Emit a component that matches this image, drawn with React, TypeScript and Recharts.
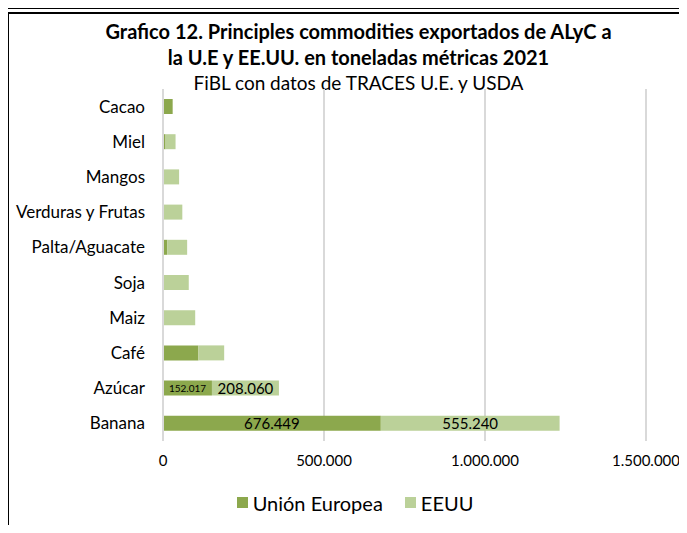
import React from "react"
import { BarChart, Bar, XAxis, YAxis, CartesianGrid, LabelList } from "recharts"

const categories = ["Cacao", "Miel", "Mangos", "Verduras y Frutas", "Palta/Aguacate", "Soja", "Maiz", "Café", "Azúcar", "Banana"]
const unionEuropea = [30000, 8000, 0, 0, 13000, 0, 0, 110000, 152017, 676449]
const eeuu = [0, 31000, 50000, 60000, 62000, 80000, 100000, 80000, 208060, 555240]
const labelled = ["Azúcar", "Banana"]
const xTicks = [0, 500000, 1000000, 1500000]

const fmt = (v: number) => Math.round(v).toString().replace(/\B(?=(\d{3})+(?!\d))/g, ".")

const data = categories.map((name, i) => ({
  name,
  ue: unionEuropea[i],
  us: eeuu[i],
  ueLabel: labelled.includes(name) ? fmt(unionEuropea[i]) : "",
  usLabel: labelled.includes(name) ? fmt(eeuu[i]) : "",
}))

const FONT = "Lato, 'Open Sans', sans-serif"
const DARK = "#8CA84D"
const LIGHT = "#BBD199"

const SegLabel = (props: any) => {
  const { x, y, width, height, value } = props
  if (!value) return null
  // narrow segment (Azúcar UE) gets the small font, like the original
  const size = width < 60 ? 10 : 15
  return (
    <text x={x + width / 2} y={y + height / 2} dy="0.36em" textAnchor="middle" fontSize={size} fontFamily={FONT} fill="#000">
      {value}
    </text>
  )
}

function LegendBox() {
  const item = (color: string, label: string) => (
    <span style={{ display: "inline-flex", alignItems: "center", margin: "0 11px" }}>
      <span style={{ width: 11, height: 11, background: color, display: "inline-block", marginRight: 5 }} />
      <span>{label}</span>
    </span>
  )
  return (
    <div style={{ position: "absolute", left: 0, width: 710, top: 488, textAlign: "center", fontFamily: FONT, fontSize: 20, color: "#000" }}>
      {item(DARK, "Unión Europea")}
      {item(LIGHT, "EEUU")}
    </div>
  )
}

export default function App() {
  return (
    <div style={{ position: "relative", width: 687, height: 533, margin: -8, background: "#fff", overflow: "hidden" }}>
      {/* frame lines */}
      <div style={{ position: "absolute", left: 7, top: 0, width: 2, height: 9, background: "#000" }} />
      <div style={{ position: "absolute", left: 7, top: 7, right: 0, height: 2, background: "#000" }} />
      <div style={{ position: "absolute", left: 7, top: 12, right: 0, height: 2, background: "#000" }} />
      <div style={{ position: "absolute", left: 7, top: 12, width: 2, bottom: 0, background: "#000" }} />

      <div style={{ position: "absolute", left: 0, width: 717, top: 18, textAlign: "center", fontFamily: FONT, color: "#000" }}>
        <div style={{ fontWeight: 700, fontSize: 20, lineHeight: "26px" }}>Grafico 12. Principles commodities exportados de ALyC a</div>
        <div style={{ fontWeight: 700, fontSize: 20, lineHeight: "26px" }}>la U.E y EE.UU. en toneladas métricas 2021</div>
        <div style={{ fontSize: 19, lineHeight: "26px" }}>FiBL con datos de TRACES U.E. y USDA</div>
      </div>

      <div style={{ position: "absolute", left: 0, top: 0 }}>
        <BarChart width={687} height={533} data={data} layout="vertical" barSize={15} margin={{ top: 89, right: 41, bottom: 62, left: 0 }}>
          <CartesianGrid horizontal={false} stroke="#D9D9D9" strokeWidth={2} />
          <XAxis
            type="number"
            domain={[0, 1500000]}
            ticks={xTicks}
            tickFormatter={fmt}
            height={30}
            axisLine={false}
            tickLine={false}
            tickSize={0}
            tickMargin={14}
            tick={{ fontSize: 15, fontFamily: FONT, fill: "#000" }}
          />
          <YAxis
            type="category"
            dataKey="name"
            width={163}
            axisLine={{ stroke: "#D9D9D9", strokeWidth: 2 }}
            tickLine={false}
            tickSize={0}
            tickMargin={18}
            interval={0}
            tick={{ fontSize: 17, fontFamily: FONT, fill: "#000" }}
          />
          <Bar dataKey="ue" name="Unión Europea" stackId="a" fill={DARK} isAnimationActive={false}>
            <LabelList dataKey="ueLabel" content={SegLabel} />
          </Bar>
          <Bar dataKey="us" name="EEUU" stackId="a" fill={LIGHT} isAnimationActive={false}>
            <LabelList dataKey="usLabel" content={SegLabel} />
          </Bar>
        </BarChart>
      </div>
      <LegendBox />
    </div>
  )
}
